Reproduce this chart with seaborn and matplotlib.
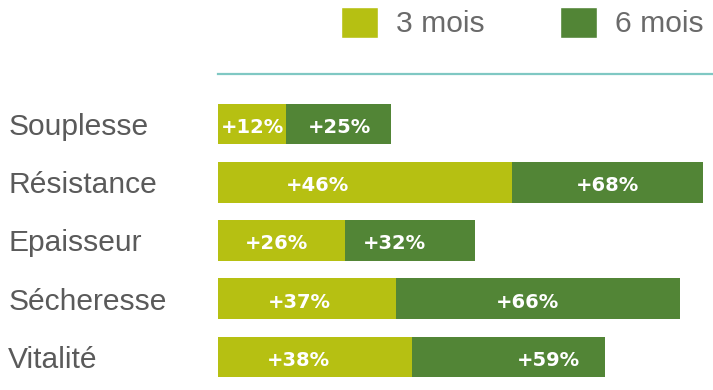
import matplotlib
matplotlib.use("Agg")
import matplotlib.pyplot as plt
from matplotlib.patches import Patch
import seaborn as sns
import pandas as pd

# Données
categories = ["Souplesse", "Résistance", "Epaisseur", "Sécheresse", "Vitalité"]
labels_3m = ["+12%", "+46%", "+26%", "+37%", "+38%"]
labels_6m = ["+25%", "+68%", "+32%", "+66%", "+59%"]
# longueurs des segments telles que dessinées (pas proportionnelles aux étiquettes)
len_3m = [13.7, 59.4, 25.7, 36.0, 39.2]
len_6m = [21.2, 38.6, 26.3, 57.4, 39.0]
# petit décalage des étiquettes par rapport au centre du segment
shift_3m = [0.2, -9.5, -1.0, -1.6, -3.4]
shift_6m = [0.2, 0.0, -3.2, -2.2, 8.1]

light = "#b6c012"
dark = "#528536"
grey = "#5a5a5a"

df = pd.DataFrame({"cat": categories, "m3": len_3m, "m6": len_6m})
df["total"] = df["m3"] + df["m6"]

sns.set_style("white")
plt.rcParams["font.family"] = ["Liberation Sans", "DejaVu Sans"]

fig = plt.figure(figsize=(7.13, 3.9), dpi=100)
ax = fig.add_axes([218 / 713, 0, 495 / 713, 1 - 74 / 390])

sns.barplot(data=df, x="total", y="cat", color=dark, orient="h", width=0.7,
            saturation=1, linewidth=0, ax=ax)
sns.barplot(data=df, x="m3", y="cat", color=light, orient="h", width=0.7,
            saturation=1, linewidth=0, ax=ax)

for i, row in df.iterrows():
    ax.text(row["m3"] / 2 + shift_3m[i], i + 0.06, labels_3m[i], color="white",
            fontsize=14, fontweight="bold", family="DejaVu Sans",
            ha="center", va="center")
    ax.text(row["m3"] + row["m6"] / 2 + shift_6m[i], i + 0.06, labels_6m[i],
            color="white", fontsize=14, fontweight="bold", family="DejaVu Sans",
            ha="center", va="center")

ax.set_xlim(0, 100)
ax.set_ylim(4.567, -0.858)
ax.set_xlabel("")
ax.set_ylabel("")
ax.set_xticks([])
for s in ["right", "bottom", "left"]:
    ax.spines[s].set_visible(False)
ax.spines["top"].set_color("#7fc8c3")
ax.spines["top"].set_linewidth(1.6)

ax.tick_params(axis="y", length=0, pad=151, labelsize=21.6, labelcolor=grey)
for t in ax.get_yticklabels():
    t.set_horizontalalignment("left")

handles = [Patch(facecolor=light, label="3 mois"), Patch(facecolor=dark, label="6 mois")]
fig.legend(handles=handles, loc="upper right", bbox_to_anchor=(704 / 713, 1 - 7 / 390),
           ncol=2, frameon=False, fontsize=21.6, labelcolor="#6a6a6a",
           handlelength=1.25, handleheight=1.2, handletextpad=0.6,
           columnspacing=2.5, borderpad=0, borderaxespad=0)

fig.savefig("out.png", dpi=100)
